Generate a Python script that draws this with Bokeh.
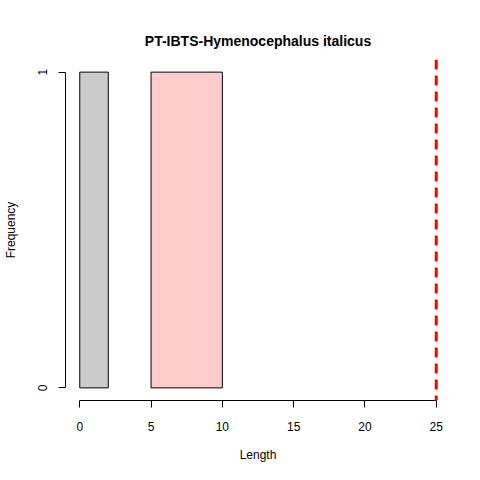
from bokeh.plotting import figure
from bokeh.models import Range1d, FixedTicker, Span
from bokeh.embed import file_html
from bokeh.resources import INLINE

title = "PT-IBTS-Hymenocephalus italicus"
bin_left = [0, 5]
bin_right = [2, 10]
counts = [1, 1]
bar_colors = ["#CCCCCC", "#FFCCCC"]
ref_length = 25
x_ticks = [0, 5, 10, 15, 20, 25]
y_ticks = [0, 1]

FONT = "Liberation Sans"

p = figure(width=464, height=464, output_backend="svg", toolbar_location=None,
           x_range=Range1d(-1, 26), y_range=Range1d(-0.04, 1.04),
           min_border_left=47, min_border_right=14, min_border_top=59, min_border_bottom=58)
p.outline_line_color = None
p.xgrid.visible = False
p.ygrid.visible = False

p.title.text = title
p.title.align = "center"
p.title.text_font = FONT
p.title.text_font_size = "14px"
p.title.text_font_style = "bold"
p.title.text_color = "black"
p.title.standoff = 22

p.quad(left=bin_left, right=bin_right, bottom=[0] * len(counts), top=counts,
       fill_color=bar_colors, line_color="black", line_width=1)

p.add_layout(Span(location=ref_length, dimension="height", line_color="red",
                  line_width=3, line_dash="10 6"))

for ax, ticks, label in ((p.xaxis[0], x_ticks, "Length"), (p.yaxis[0], y_ticks, "Frequency")):
    ax.ticker = FixedTicker(ticks=ticks)
    ax.bounds = (min(ticks), max(ticks))
    ax.axis_label = label
    ax.axis_label_text_font = FONT
    ax.axis_label_text_font_size = "12px"
    ax.axis_label_text_font_style = "normal"
    ax.axis_label_text_color = "black"
    ax.major_label_text_font = FONT
    ax.major_label_text_font_size = "12px"
    ax.major_label_text_color = "black"
    ax.major_tick_in = 0
    ax.major_tick_out = 7
    ax.minor_tick_out = 0
    ax.minor_tick_in = 0
    ax.axis_line_color = "black"
    ax.major_tick_line_color = "black"

p.xaxis[0].major_label_standoff = 14
p.xaxis[0].axis_label_standoff = 14
p.yaxis[0].major_label_standoff = 11
p.yaxis[0].axis_label_standoff = 18
p.yaxis[0].major_label_orientation = "vertical"

open("out.html", "w").write(file_html(p, INLINE))
